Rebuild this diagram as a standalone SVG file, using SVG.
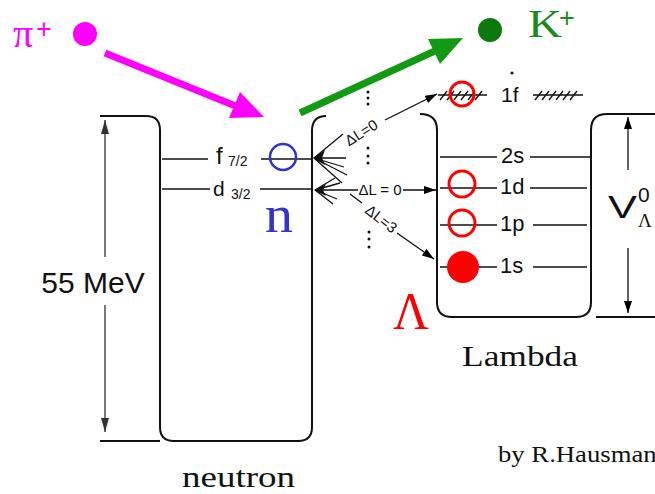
<svg xmlns="http://www.w3.org/2000/svg" width="655" height="494" viewBox="0 0 655 494">
<defs>
<marker id="ah" viewBox="0 0 12 8" refX="12" refY="4" markerWidth="12" markerHeight="8" markerUnits="userSpaceOnUse" orient="auto">
<path d="M0,0 L12,4 L0,8 Z" fill="#000"/>
</marker>
<marker id="ahg" viewBox="0 0 14 8" refX="14" refY="4" markerWidth="14" markerHeight="8" markerUnits="userSpaceOnUse" orient="auto">
<path d="M0,0 L14,4 L0,8 Z" fill="#333"/>
</marker>
</defs>
<style>
.well{fill:none;stroke:#111;stroke-width:2}
.lvl{fill:none;stroke:#111;stroke-width:1.5}
.thin{fill:none;stroke:#111;stroke-width:1.3}
.sans{font-family:"Liberation Sans",Arial,sans-serif;fill:#111}
.serif{font-family:"Liberation Serif","Times New Roman",serif}
.dot{fill:#111}
.ring{fill:none;stroke:#ff0000;stroke-width:3}
</style>
<rect width="655" height="494" fill="#fff"/>

<g id="neutron-well">
<path class="well" d="M100,116 H146 Q160,116 160,130 V427 Q160,441 174,441 H298 Q312,441 312,427 V131 Q312,116 326,116"/>
<path class="well" d="M100,441 H160"/>
<line x1="105" y1="257" x2="105" y2="120" stroke="#333" stroke-width="1.3" marker-end="url(#ahg)"/>
<line x1="105" y1="305" x2="105" y2="432" stroke="#333" stroke-width="1.3" marker-end="url(#ahg)"/>
<text class="sans" x="93" y="293" font-size="30" text-anchor="middle">55 MeV</text>
<text class="serif" x="182" y="487" font-size="30" fill="#111" textLength="113" lengthAdjust="spacingAndGlyphs">neutron</text>
</g>

<g id="neutron-levels">
<line class="lvl" x1="162" y1="159" x2="208" y2="159"/>
<line class="lvl" x1="261" y1="159" x2="312" y2="159"/>
<text class="sans" x="216" y="164" font-size="24">f</text>
<text class="sans" x="228" y="166" font-size="14">7/2</text>
<line class="lvl" x1="162" y1="189" x2="210" y2="189"/>
<line class="lvl" x1="260" y1="189" x2="312" y2="189"/>
<text class="sans" x="213" y="196" font-size="21">d</text>
<text class="sans" x="231" y="199" font-size="14">3/2</text>
<circle cx="283" cy="157" r="13" fill="none" stroke="#3333cc" stroke-width="2.5"/>
<text class="serif" x="265" y="232" font-size="52" fill="#3333cc" textLength="28" lengthAdjust="spacingAndGlyphs">n</text>
</g>

<g id="lambda-well">
<path class="well" d="M420,114 Q437,114 437,130 V302 Q437,317 452,317 H576 Q591,317 591,302 V130 Q591,114 607,114 H655"/>
<path class="well" d="M596,317 H655"/>
<line x1="628" y1="170" x2="628" y2="117" stroke="#111" stroke-width="1.3" marker-end="url(#ah)"/>
<line x1="628" y1="248" x2="628" y2="313" stroke="#111" stroke-width="1.3" marker-end="url(#ah)"/>
<text class="sans" x="608" y="218" font-size="31" textLength="29" lengthAdjust="spacingAndGlyphs">V</text>
<text class="sans" x="638" y="202" font-size="21">0</text>
<text class="serif" x="638" y="227" font-size="19" fill="#111">Λ</text>
<text class="serif" x="462" y="366" font-size="30" fill="#111" textLength="116" lengthAdjust="spacingAndGlyphs">Lambda</text>
<text class="serif" x="393" y="329" font-size="52" fill="#ff0000" textLength="36" lengthAdjust="spacingAndGlyphs">Λ</text>
</g>

<g id="lambda-levels">
<path class="thin" d="M438,95 H487 M533,95 H583"/>
<path class="thin" d="M440,100 l7,-9 M447,100 l7,-9 M454,100 l7,-9 M461,100 l7,-9 M468,100 l7,-9 M475,100 l7,-9 M535,100 l7,-9 M542,100 l7,-9 M549,100 l7,-9 M556,100 l7,-9 M563,100 l7,-9 M570,100 l7,-9"/>
<circle class="ring" cx="462" cy="94" r="12"/>
<circle class="dot" cx="512" cy="73" r="1.5"/>
<text class="sans" x="501" y="102" font-size="21">1f</text>
<line class="lvl" x1="440" y1="157" x2="497" y2="157"/>
<line class="lvl" x1="530" y1="157" x2="590" y2="157"/>
<text class="sans" x="501" y="163" font-size="22">2s</text>
<line class="lvl" x1="440" y1="188" x2="497" y2="188"/>
<line class="lvl" x1="530" y1="188" x2="587" y2="188"/>
<circle class="ring" cx="462" cy="184" r="13"/>
<text class="sans" x="500" y="194" font-size="22">1d</text>
<line class="lvl" x1="440" y1="225" x2="497" y2="225"/>
<line class="lvl" x1="533" y1="225" x2="587" y2="225"/>
<circle class="ring" cx="462" cy="223" r="13"/>
<text class="sans" x="500" y="231" font-size="22">1p</text>
<line class="lvl" x1="440" y1="267" x2="497" y2="267"/>
<line class="lvl" x1="533" y1="267" x2="587" y2="267"/>
<circle cx="463" cy="267" r="16" fill="#ff0000"/>
<text class="sans" x="500" y="273" font-size="22">1s</text>
</g>

<g id="pion">
<circle cx="85" cy="34" r="12" fill="#ff00ff"/>
<text class="serif" x="13" y="47" font-size="40" fill="#ff00ff">π</text>
<text class="sans" x="36" y="38" font-size="27" style="fill:#ff00ff;font-weight:300">+</text>
</g>

<g id="kaon">
<circle cx="490" cy="30" r="12" fill="#0b7a0b"/>
<text class="serif" x="528" y="37" font-size="41" fill="#1a8a1a" textLength="34" lengthAdjust="spacingAndGlyphs">K</text>
<text class="sans" x="559" y="27" font-size="27" style="fill:#1a8a1a">+</text>
</g>

<g id="credit">
<text class="serif" x="498" y="462" font-size="24" fill="#111" textLength="172" lengthAdjust="spacingAndGlyphs">by R.Hausmann</text>
</g>

<g id="connectors">
<line x1="105" y1="53" x2="238" y2="107" stroke="#ff00ff" stroke-width="7"/>
<polygon points="264,117 229,118 240,92" fill="#ff00ff"/>
<line x1="300" y1="113" x2="437" y2="50" stroke="#129a12" stroke-width="7"/>
<polygon points="463,38 428,39 440,64" fill="#129a12"/>

<g fill="#111">
<circle cx="368" cy="92" r="1.5"/><circle cx="368" cy="98" r="1.5"/><circle cx="368" cy="104" r="1.5"/>
<circle cx="368" cy="148" r="1.5"/><circle cx="368" cy="156" r="1.5"/><circle cx="368" cy="163" r="1.5"/>
<circle cx="369" cy="232" r="1.5"/><circle cx="369" cy="239" r="1.5"/><circle cx="369" cy="247" r="1.5"/>
</g>

<path class="thin" d="M314,158 L343,134 M314,158 L346,158 M314,158 L344,167 M314,158 L347,175 M314,158 L342,183"/>
<polygon points="313,158 325,150 322,158 325,165" fill="#111"/>
<text class="sans" font-size="15" transform="translate(364,137) rotate(-32)" text-anchor="middle">ΔL=0</text>
<line x1="385" y1="120" x2="437" y2="94" stroke="#111" stroke-width="1.3" marker-end="url(#ah)"/>

<path class="thin" d="M315,190 L335,178 M315,190 L340,183 M315,190 L358,190 M315,190 L337,199 M315,190 L333,204"/>
<polygon points="314,190 326,184 323,190 326,196" fill="#111"/>
<text class="sans" x="380" y="195" font-size="15" text-anchor="middle">ΔL = 0</text>
<line x1="403" y1="190" x2="436" y2="190" stroke="#111" stroke-width="1.3" marker-end="url(#ah)"/>

<line class="thin" x1="350" y1="194" x2="362" y2="203"/>
<text class="sans" font-size="15" transform="translate(378,223) rotate(38)" text-anchor="middle">ΔL=3</text>
<line x1="397" y1="233" x2="434" y2="259" stroke="#111" stroke-width="1.3" marker-end="url(#ah)"/>
</g>
</svg>
